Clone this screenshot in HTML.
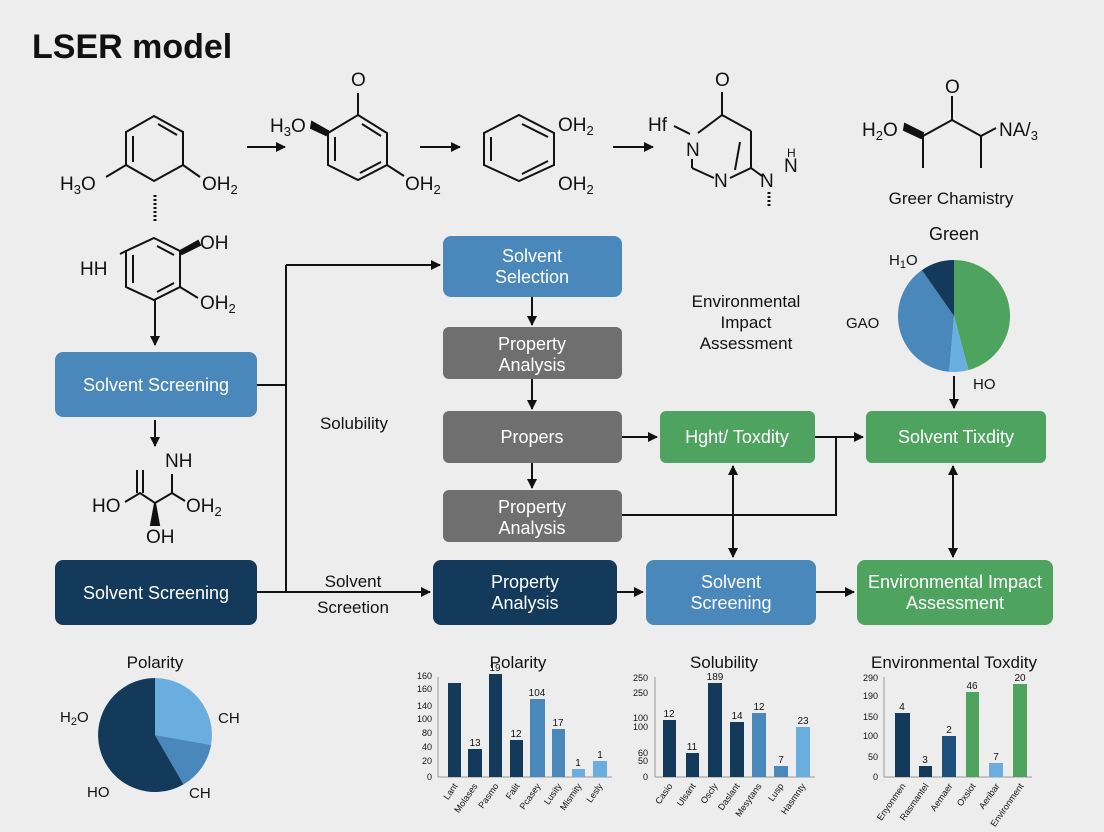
<!DOCTYPE html>
<html><head><meta charset="utf-8"><style>
html,body{margin:0;padding:0;background:#ededed;}
svg{display:block;font-family:"Liberation Sans",sans-serif;}
</style></head><body>
<svg width="1104" height="832" viewBox="0 0 1104 832" xmlns="http://www.w3.org/2000/svg">
<defs>
<marker id="ar" markerWidth="10" markerHeight="10" refX="9" refY="5" orient="auto" markerUnits="userSpaceOnUse"><path d="M0,0 L10,5 L0,10 z" fill="#111"/></marker>
<marker id="as" markerWidth="10" markerHeight="10" refX="1" refY="5" orient="auto" markerUnits="userSpaceOnUse"><path d="M10,0 L0,5 L10,10 z" fill="#111"/></marker>
</defs>
<rect width="1104" height="832" fill="#ededed"/>
<text x="32" y="58" font-size="34" font-weight="bold" fill="#111">LSER model</text>

<g stroke="#111" stroke-width="2" fill="none">
<polygon points="154,116 183,132 183,165 154,181 126,165 126,132"/>
<line x1="133" y1="136" x2="133" y2="162"/><line x1="158" y1="124" x2="177" y2="135"/>
<line x1="126" y1="165" x2="106" y2="177"/><line x1="183" y1="165" x2="200" y2="177"/>
<line x1="155" y1="195" x2="155" y2="222" stroke-dasharray="2,2" stroke-width="3"/>
<line x1="247" y1="147" x2="285" y2="147" marker-end="url(#ar)"/>
<line x1="420" y1="147" x2="460" y2="147" marker-end="url(#ar)"/>
<line x1="613" y1="147" x2="653" y2="147" marker-end="url(#ar)"/>
<polygon points="358,115 387,133 387,165 358,180 328,165 328,133"/>
<line x1="335" y1="137" x2="335" y2="161"/><line x1="362" y1="124" x2="381" y2="136"/><line x1="381" y1="162" x2="360" y2="173"/>
<line x1="358" y1="115" x2="358" y2="93"/><line x1="387" y1="165" x2="404" y2="176"/>
<polygon points="312,122 328,131 326,135 311,128" fill="#111"/>
<polygon points="519,115 554,133 554,165 519,181 484,165 484,133"/>
<line x1="491" y1="137" x2="491" y2="161"/><line x1="522" y1="124" x2="548" y2="137"/><line x1="548" y1="161" x2="522" y2="174"/>
<line x1="674" y1="126" x2="690" y2="134"/>
<line x1="698" y1="133" x2="722" y2="115"/><line x1="722" y1="115" x2="722" y2="92"/>
<line x1="722" y1="115" x2="751" y2="131"/><line x1="751" y1="131" x2="751" y2="168"/><line x1="740" y1="142" x2="735" y2="170"/>
<line x1="692" y1="159" x2="692" y2="168"/><line x1="692" y1="168" x2="714" y2="178"/>
<line x1="730" y1="178" x2="751" y2="168"/><line x1="751" y1="168" x2="762" y2="176"/>
<line x1="769" y1="192" x2="769" y2="206" stroke-dasharray="2,2" stroke-width="3"/>
<polygon points="905,124 923,133 921,138 904,130" fill="#111"/>
<polyline points="923,136 952,120 981,136 996,128"/>
<line x1="952" y1="120" x2="952" y2="96"/>
<line x1="923" y1="136" x2="923" y2="168"/><line x1="981" y1="136" x2="981" y2="168"/>
<polygon points="154,238 180,251 180,287 154,300 126,287 126,251"/>
<line x1="133" y1="255" x2="133" y2="283"/><line x1="157" y1="246" x2="174" y2="255"/><line x1="174" y1="283" x2="157" y2="292"/>
<line x1="180" y1="287" x2="198" y2="298"/><line x1="120" y1="254" x2="126" y2="251"/>
<polygon points="180,251 198,241 200,245 182,254" fill="#111"/>
<line x1="155" y1="300" x2="155" y2="345" marker-end="url(#ar)"/>
<line x1="155" y1="420" x2="155" y2="446" marker-end="url(#ar)"/>
<polyline points="125,502 140,493 155,503 172,493 185,501"/>
<line x1="137" y1="470" x2="137" y2="493"/><line x1="143" y1="470" x2="143" y2="493"/>
<line x1="172" y1="493" x2="172" y2="474"/>
<polygon points="155,503 151,525 159,525" fill="#111"/>

<line x1="257" y1="385" x2="286" y2="385"/>
<line x1="286" y1="265" x2="286" y2="592"/>
<line x1="286" y1="265" x2="440" y2="265" marker-end="url(#ar)"/>
<line x1="257" y1="592" x2="430" y2="592" marker-end="url(#ar)"/>
<line x1="532" y1="297" x2="532" y2="325" marker-end="url(#ar)"/>
<line x1="532" y1="379" x2="532" y2="409" marker-end="url(#ar)"/>
<line x1="532" y1="463" x2="532" y2="488" marker-end="url(#ar)"/>
<line x1="622" y1="437" x2="657" y2="437" marker-end="url(#ar)"/>
<line x1="815" y1="437" x2="863" y2="437" marker-end="url(#ar)"/>
<polyline points="622,515 836,515 836,437"/>
<line x1="733" y1="466" x2="733" y2="557" marker-start="url(#as)" marker-end="url(#ar)"/>
<line x1="953" y1="466" x2="953" y2="557" marker-start="url(#as)" marker-end="url(#ar)"/>
<line x1="954" y1="376" x2="954" y2="408" marker-end="url(#ar)"/>
<line x1="617" y1="592" x2="643" y2="592" marker-end="url(#ar)"/>
<line x1="816" y1="592" x2="854" y2="592" marker-end="url(#ar)"/>
</g>

<g fill="#111" font-size="19">
<text x="60" y="190">H<tspan font-size="13" dy="4">3</tspan><tspan dy="-4">O</tspan></text>
<text x="202" y="190">OH<tspan font-size="13" dy="4">2</tspan></text>
<text x="270" y="132">H<tspan font-size="13" dy="4">3</tspan><tspan dy="-4">O</tspan></text>
<text x="351" y="86">O</text>
<text x="405" y="190">OH<tspan font-size="13" dy="4">2</tspan></text>
<text x="558" y="131">OH<tspan font-size="13" dy="4">2</tspan></text>
<text x="558" y="190">OH<tspan font-size="13" dy="4">2</tspan></text>
<text x="648" y="131">Hf</text>
<text x="715" y="86">O</text>
<text x="686" y="156">N</text>
<text x="714" y="187">N</text>
<text x="760" y="187">N</text>
<text x="784" y="172">N</text>
<text x="787" y="157" font-size="12">H</text>
<text x="862" y="136">H<tspan font-size="13" dy="4">2</tspan><tspan dy="-4">O</tspan></text>
<text x="945" y="93">O</text>
<text x="999" y="136">NA/<tspan font-size="13" dy="4">3</tspan></text>
<text x="951" y="204" font-size="17" text-anchor="middle">Greer Chamistry</text>
<text x="954" y="240" font-size="18" text-anchor="middle">Green</text>
<text x="889" y="265" font-size="15">H<tspan font-size="11" dy="3">1</tspan><tspan dy="-3">O</tspan></text>
<text x="846" y="328" font-size="15">GAO</text>
<text x="973" y="389" font-size="15">HO</text>
<text x="200" y="249">OH</text>
<text x="200" y="309">OH<tspan font-size="13" dy="4">2</tspan></text>
<text x="80" y="275">HH</text>
<text x="165" y="467">NH</text>
<text x="92" y="512">HO</text>
<text x="186" y="512">OH<tspan font-size="13" dy="4">2</tspan></text>
<text x="146" y="543">OH</text>
<text x="746" y="307" font-size="17" text-anchor="middle">Environmental</text>
<text x="746" y="328" font-size="17" text-anchor="middle">Impact</text>
<text x="746" y="349" font-size="17" text-anchor="middle">Assessment</text>
<text x="354" y="429" font-size="17" text-anchor="middle">Solubility</text>
<text x="353" y="587" font-size="17" text-anchor="middle">Solvent</text>
<text x="353" y="613" font-size="17" text-anchor="middle">Screetion</text>
<text x="155" y="668" font-size="17" text-anchor="middle">Polarity</text>
<text x="60" y="722" font-size="15">H<tspan font-size="11" dy="3">2</tspan><tspan dy="-3">O</tspan></text>
<text x="218" y="723" font-size="15">CH</text>
<text x="87" y="797" font-size="15">HO</text>
<text x="189" y="798" font-size="15">CH</text>
</g>

<g font-size="18" fill="#fff" text-anchor="middle">
<rect x="55" y="352" width="202" height="65" rx="8" fill="#4a87ba"/><text x="156" y="391">Solvent Screening</text>
<rect x="55" y="560" width="202" height="65" rx="8" fill="#133a5b"/><text x="156" y="599">Solvent Screening</text>
<rect x="443" y="236" width="179" height="61" rx="8" fill="#4a87ba"/><text x="532" y="262">Solvent</text><text x="532" y="283">Selection</text>
<rect x="443" y="327" width="179" height="52" rx="6" fill="#6f6f6f"/><text x="532" y="350">Property</text><text x="532" y="371">Analysis</text>
<rect x="443" y="411" width="179" height="52" rx="6" fill="#6f6f6f"/><text x="532" y="443">Propers</text>
<rect x="443" y="490" width="179" height="52" rx="6" fill="#6f6f6f"/><text x="532" y="513">Property</text><text x="532" y="534">Analysis</text>
<rect x="433" y="560" width="184" height="65" rx="8" fill="#133a5b"/><text x="525" y="588">Property</text><text x="525" y="609">Analysis</text>
<rect x="660" y="411" width="155" height="52" rx="6" fill="#4ea35f"/><text x="737" y="443">Hght/ Toxdity</text>
<rect x="646" y="560" width="170" height="65" rx="8" fill="#4a87ba"/><text x="731" y="588">Solvent</text><text x="731" y="609">Screening</text>
<rect x="866" y="411" width="180" height="52" rx="6" fill="#4ea35f"/><text x="956" y="443">Solvent Tixdity</text>
<rect x="857" y="560" width="196" height="65" rx="8" fill="#4ea35f"/><text x="955" y="588">Environmental Impact</text><text x="955" y="609">Assessment</text>
</g>

<path d="M954,316 L954,260 A56,56 0 0 1 968.5,370.1 Z" fill="#4ea35f"/>
<path d="M954,316 L968.5,370.1 A56,56 0 0 1 949.1,371.8 Z" fill="#6aaee0"/>
<path d="M954,316 L949.1,371.8 A56,56 0 0 1 921.9,270.1 Z" fill="#4a87ba"/>
<path d="M954,316 L921.9,270.1 A56,56 0 0 1 954,260 Z" fill="#133a5b"/>

<path d="M155,735 L155,678 A57,57 0 0 1 211.1,744.9 Z" fill="#6aaee0"/>
<path d="M155,735 L211.1,744.9 A57,57 0 0 1 183.5,784.4 Z" fill="#4a87ba"/>
<path d="M155,735 L183.5,784.4 A57,57 0 1 1 155,678 Z" fill="#133a5b"/>

<g font-size="17" fill="#111" text-anchor="middle">
<text x="518" y="668">Polarity</text>
<text x="724" y="668">Solubility</text>
<text x="954" y="668">Environmental Toxdity</text>
</g>
<g font-size="9" fill="#111" text-anchor="end">
<text x="432" y="679">160</text><text x="432" y="692">160</text><text x="432" y="709">140</text><text x="432" y="722">100</text><text x="432" y="736">80</text><text x="432" y="750">40</text><text x="432" y="764">20</text><text x="432" y="780">0</text>
<text x="648" y="681">250</text><text x="648" y="696">250</text><text x="648" y="721">100</text><text x="648" y="730">100</text><text x="648" y="756">60</text><text x="648" y="764">50</text><text x="648" y="780">0</text>
<text x="878" y="681">290</text><text x="878" y="699">190</text><text x="878" y="720">150</text><text x="878" y="739">100</text><text x="878" y="760">50</text><text x="878" y="780">0</text>
</g>
<g stroke="#999" stroke-width="1">
<line x1="438" y1="677" x2="438" y2="777"/><line x1="438" y1="777" x2="612" y2="777"/>
<line x1="655" y1="677" x2="655" y2="777"/><line x1="655" y1="777" x2="815" y2="777"/>
<line x1="884" y1="677" x2="884" y2="777"/><line x1="884" y1="777" x2="1032" y2="777"/>
</g>
<g>
<rect x="448" y="683" width="13" height="94" fill="#133a5b"/>
<rect x="468" y="749" width="14" height="28" fill="#133a5b"/>
<rect x="489" y="674" width="13" height="103" fill="#133a5b"/>
<rect x="510" y="740" width="13" height="37" fill="#133a5b"/>
<rect x="530" y="699" width="15" height="78" fill="#4a87ba"/>
<rect x="552" y="729" width="13" height="48" fill="#4a87ba"/>
<rect x="572" y="769" width="13" height="8" fill="#6aaee0"/>
<rect x="593" y="761" width="14" height="16" fill="#6aaee0"/>
<rect x="663" y="720" width="13" height="57" fill="#133a5b"/>
<rect x="686" y="753" width="13" height="24" fill="#133a5b"/>
<rect x="708" y="683" width="14" height="94" fill="#133a5b"/>
<rect x="730" y="722" width="14" height="55" fill="#133a5b"/>
<rect x="752" y="713" width="14" height="64" fill="#4a87ba"/>
<rect x="774" y="766" width="14" height="11" fill="#4a87ba"/>
<rect x="796" y="727" width="14" height="50" fill="#6aaee0"/>
<rect x="895" y="713" width="15" height="64" fill="#133a5b"/>
<rect x="919" y="766" width="13" height="11" fill="#133a5b"/>
<rect x="942" y="736" width="14" height="41" fill="#1d4f7a"/>
<rect x="966" y="692" width="13" height="85" fill="#4ea35f"/>
<rect x="989" y="763" width="14" height="14" fill="#6aaee0"/>
<rect x="1013" y="684" width="14" height="93" fill="#4ea35f"/>
</g>
<g font-size="10" fill="#111" text-anchor="middle">
<text x="475" y="746">13</text><text x="495" y="671">19</text><text x="516" y="737">12</text><text x="537" y="696">104</text><text x="558" y="726">17</text><text x="578" y="766">1</text><text x="600" y="758">1</text>
<text x="669" y="717">12</text><text x="692" y="750">11</text><text x="715" y="680">189</text><text x="737" y="719">14</text><text x="759" y="710">12</text><text x="781" y="763">7</text><text x="803" y="724">23</text>
<text x="902" y="710">4</text><text x="925" y="763">3</text><text x="949" y="733">2</text><text x="972" y="689">46</text><text x="996" y="760">7</text><text x="1020" y="681">20</text>
</g>
<g font-size="9" fill="#111" text-anchor="end">
<text transform="translate(458,786) rotate(-55)">Lant</text>
<text transform="translate(478,786) rotate(-55)">Molases</text>
<text transform="translate(499,786) rotate(-55)">Pasmo</text>
<text transform="translate(520,786) rotate(-55)">Falit</text>
<text transform="translate(541,786) rotate(-55)">Pcasey</text>
<text transform="translate(562,786) rotate(-55)">Lusity</text>
<text transform="translate(582,786) rotate(-55)">Mismity</text>
<text transform="translate(603,786) rotate(-55)">Lesly</text>
<text transform="translate(673,786) rotate(-55)">Casio</text>
<text transform="translate(696,786) rotate(-55)">Ulsant</text>
<text transform="translate(718,786) rotate(-55)">Oscly</text>
<text transform="translate(740,786) rotate(-55)">Daslant</text>
<text transform="translate(762,786) rotate(-55)">Mesytans</text>
<text transform="translate(784,786) rotate(-55)">Lusp</text>
<text transform="translate(806,786) rotate(-55)">Hasmnty</text>
<text transform="translate(906,786) rotate(-55)">Enyonmen</text>
<text transform="translate(929,786) rotate(-55)">Rasmantel</text>
<text transform="translate(953,786) rotate(-55)">Aemaer</text>
<text transform="translate(976,786) rotate(-55)">Oxsiot</text>
<text transform="translate(1000,786) rotate(-55)">Aeribar</text>
<text transform="translate(1024,786) rotate(-55)">Environment</text>
</g>
</svg>
</body></html>
